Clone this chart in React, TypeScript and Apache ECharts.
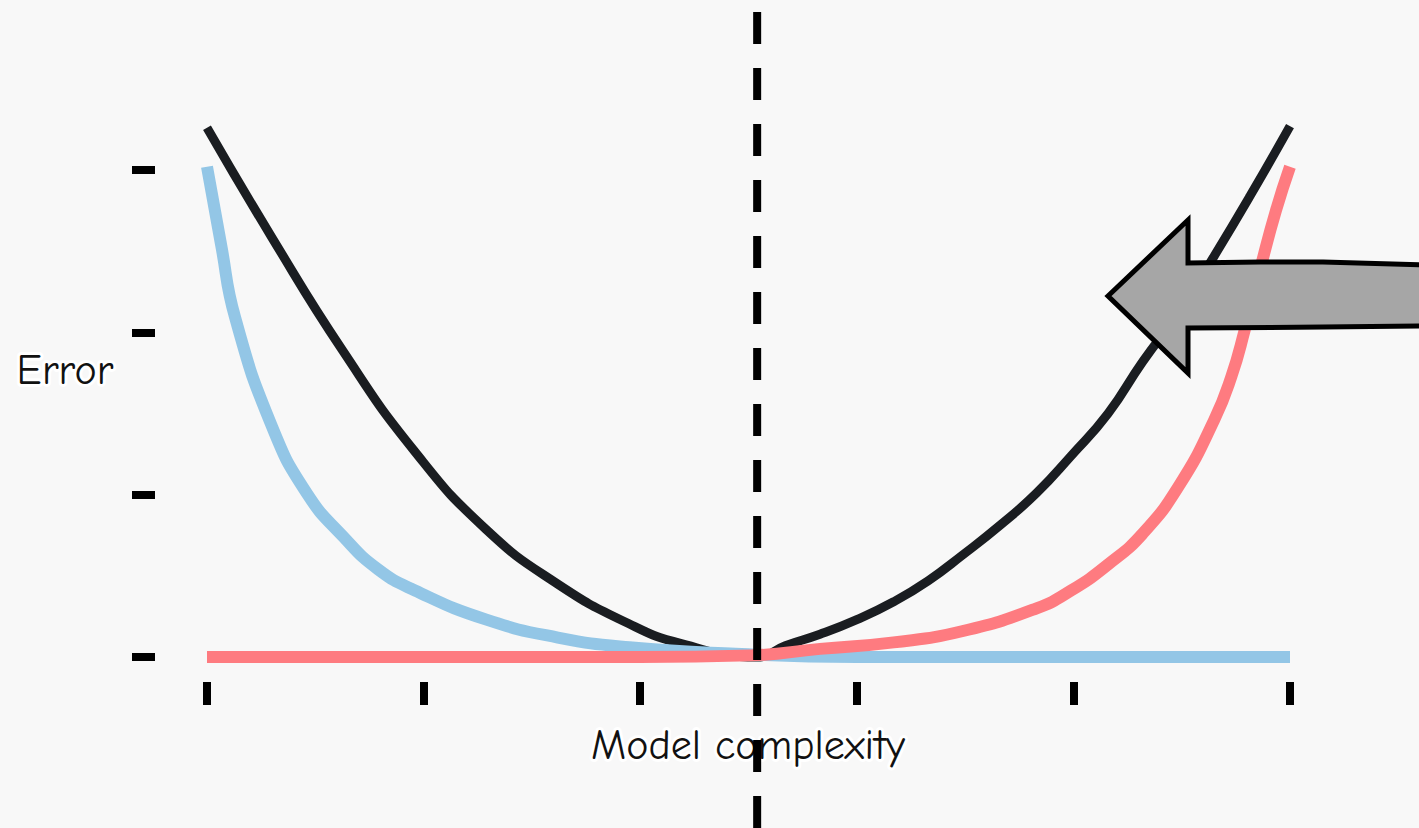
import React, { useEffect, useRef } from "react";
import * as echarts from "echarts";

// x ticks (model complexity) and y ticks (error)
const xTicks = [0, 1, 2, 3, 4, 5];
const yTicks = [0, 1, 2, 3];

// Total error (black)
const totalX = [0, 0.297, 0.627, 0.957, 1.287, 1.616, 1.946, 2.19, 2.54, 2.67, 2.83, 3.0, 3.17, 3.33, 3.49, 3.66, 3.83, 3.99, 4.16, 4.32, 4.49, 4.65, 4.82, 5.0];
const totalY = [3.26, 2.59, 1.886, 1.27, 0.788, 0.452, 0.206, 0.082, 0.0, 0.07, 0.14, 0.23, 0.34, 0.47, 0.63, 0.81, 1.01, 1.24, 1.5, 1.82, 2.13, 2.47, 2.85, 3.27];

// Bias (blue)
const biasX = [0, 0.065, 0.13, 0.3, 0.46, 0.63, 0.79, 0.96, 1.29, 1.62, 1.95, 2.44, 3.0, 4.0, 5.0];
const biasY = [3.02, 2.54, 2.09, 1.42, 1.01, 0.74, 0.54, 0.41, 0.23, 0.12, 0.06, 0.02, 0.0, 0.0, 0.0];

// Variance (red)
const varX = [0, 1, 2, 2.51, 2.83, 3.17, 3.49, 3.83, 3.99, 4.16, 4.32, 4.49, 4.65, 4.73, 4.79, 4.87, 4.935, 5.0];
const varY = [0, 0, 0, 0.01, 0.05, 0.09, 0.16, 0.3, 0.41, 0.57, 0.76, 1.06, 1.46, 1.73, 2.01, 2.43, 2.75, 3.02];

const optimum = 2.54;
const xName = "Model complexity";
const yName = "Error";

const FONT = '"Comic Sans MS", "Comic Neue", "Lato", "DejaVu Sans", sans-serif';

const pairs = (xs: number[], ys: number[]) => xs.map((x, i) => [x, ys[i]]);

export default function App() {
  const ref = useRef<HTMLDivElement>(null);

  useEffect(() => {
    if (!ref.current) return;
    const chart = echarts.init(ref.current, undefined, { renderer: "svg" });
    const lineSeries = (name: string, xs: number[], ys: number[], color: string, width: number, z: number) => ({
      name,
      type: "line",
      data: pairs(xs, ys),
      smooth: 0.5,
      showSymbol: false,
      clip: false,
      z,
      lineStyle: { color, width, cap: "butt" },
      emphasis: { disabled: true },
    });
    const option: any = {
      animation: false,
      backgroundColor: "#f8f8f8",
      grid: { left: 207, right: 129, top: 170, bottom: 171 },
      xAxis: {
        type: "value",
        min: xTicks[0],
        max: xTicks[xTicks.length - 1],
        interval: 1,
        offset: 25,
        axisLine: { show: false, onZero: false },
        axisTick: { show: true, inside: false, length: 23, lineStyle: { color: "#000", width: 8 } },
        axisLabel: { show: false },
        splitLine: { show: false },
      },
      yAxis: {
        type: "value",
        min: yTicks[0],
        max: yTicks[yTicks.length - 1],
        interval: 1,
        offset: 52,
        axisLine: { show: false, onZero: false },
        axisTick: { show: true, inside: false, length: 23, lineStyle: { color: "#000", width: 8 } },
        axisLabel: { show: false },
        splitLine: { show: false },
      },
      series: [
        lineSeries("Total error", totalX, totalY, "#1a1d21", 9, 2),
        lineSeries("Bias", biasX, biasY, "#93c6e6", 12, 3),
        lineSeries("Variance", varX, varY, "#fe7b80", 12, 4),
      ],
    };
    chart.setOption(option);

    const lineX = chart.convertToPixel({ xAxisIndex: 0 }, optimum) as number;
    const textStyle = {
      fontFamily: FONT,
      fontSize: 42,
      fill: "#111",
      stroke: "#ffffff",
      lineWidth: 6,
    };
    chart.setOption({
      graphic: [
        {
          type: "text",
          x: 65,
          y: 370,
          z: 10,
          style: { ...textStyle, text: yName, align: "center", verticalAlign: "middle" },
        },
        {
          type: "text",
          x: 748,
          y: 745,
          z: 10,
          style: { ...textStyle, text: xName, align: "center", verticalAlign: "middle" },
        },
        {
          type: "line",
          z: 20,
          shape: { x1: lineX, y1: 12, x2: lineX, y2: 828 },
          style: { stroke: "#000", lineWidth: 8, lineDash: [32, 24] },
        },
        {
          type: "polygon",
          z: 30,
          shape: {
            points: [
              [1108, 296],
              [1188, 220],
              [1188, 263],
              [1260, 262],
              [1323, 262],
              [1425, 265],
              [1425, 326],
              [1323, 327],
              [1188, 328],
              [1188, 373],
            ],
          },
          style: { fill: "#a6a6a6", stroke: "#000", lineWidth: 5, lineJoin: "miter" },
        },
      ],
    });

    return () => chart.dispose();
  }, []);

  return (
    <div
      ref={ref}
      style={{ position: "fixed", left: 0, top: 0, width: 1419, height: 828 }}
    />
  );
}
